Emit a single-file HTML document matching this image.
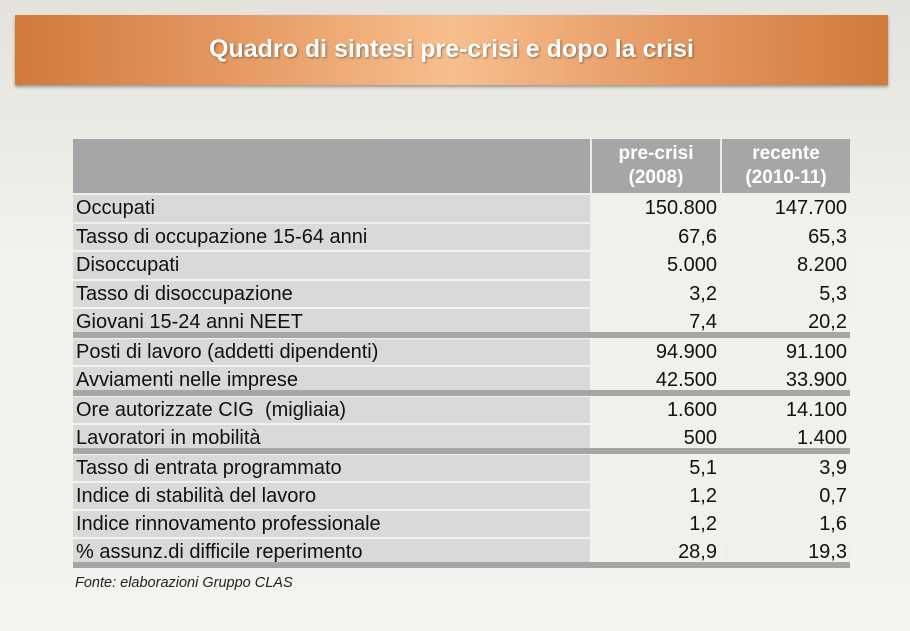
<!DOCTYPE html>
<html><head><meta charset="utf-8"><style>
body{margin:0;width:910px;height:631px;overflow:hidden;background:linear-gradient(#e4e2dc,#f2f1ed 40%,#f4f3ef);font-family:"Liberation Sans",sans-serif;position:relative}
.ban{position:absolute;left:15px;top:15px;width:873px;height:70px;background:linear-gradient(90deg,#d07a3c 0%,#e9a06a 30%,#f7bf8e 50%,#e9a06a 70%,#d07a3c 100%);box-shadow:0 2px 3px rgba(0,0,0,.35);color:#fff;font-weight:bold;font-size:25px;text-align:center;line-height:68px;text-shadow:1px 1px 2px rgba(0,0,0,.4)}
.r{position:absolute;left:73px;width:777px;font-size:20px;color:#111}
.c{position:absolute;top:0;bottom:0;box-sizing:border-box;line-height:27px;white-space:nowrap}
.a{left:0;width:517px;background:#d9d9d9;padding-left:3px}
.b{left:519px;width:128px;background:#f1f0ec;text-align:right;padding-right:3px}
.d{left:649px;width:128px;background:#f1f0ec;text-align:right;padding-right:3px}
.sep{position:absolute;left:73px;width:777px;height:6px;background:#a6a6a6}
.h{position:absolute;top:139px;height:54px;background:#a6a6a6;color:#fff;font-weight:bold;font-size:19px;text-align:center;line-height:24px;padding-top:3px;box-sizing:border-box}
</style></head><body>
<div class="ban">Quadro di sintesi pre-crisi e dopo la crisi</div>
<div class="h" style="left:73px;width:517px"></div>
<div class="h" style="left:592px;width:128px">pre-crisi<br>(2008)</div>
<div class="h" style="left:722px;width:128px">recente<br>(2010-11)</div>

<div class="r" style="top:195px;height:27px"><div class="c a">Occupati</div><div class="c b">150.800</div><div class="c d">147.700</div></div>
<div class="r" style="top:224px;height:26px"><div class="c a">Tasso di occupazione 15-64 anni</div><div class="c b">67,6</div><div class="c d">65,3</div></div>
<div class="r" style="top:252px;height:27px"><div class="c a">Disoccupati</div><div class="c b">5.000</div><div class="c d">8.200</div></div>
<div class="r" style="top:281px;height:26px"><div class="c a">Tasso di disoccupazione</div><div class="c b">3,2</div><div class="c d">5,3</div></div>
<div class="r" style="top:309px;height:24px"><div class="c a">Giovani 15-24 anni NEET</div><div class="c b">7,4</div><div class="c d">20,2</div></div>
<div class="sep" style="top:332px"></div>
<div class="r" style="top:339px;height:26px"><div class="c a">Posti di lavoro (addetti dipendenti)</div><div class="c b">94.900</div><div class="c d">91.100</div></div>
<div class="r" style="top:367px;height:24px"><div class="c a">Avviamenti nelle imprese</div><div class="c b">42.500</div><div class="c d">33.900</div></div>
<div class="sep" style="top:390px"></div>
<div class="r" style="top:397px;height:26px"><div class="c a">Ore autorizzate CIG &nbsp;(migliaia)</div><div class="c b">1.600</div><div class="c d">14.100</div></div>
<div class="r" style="top:425px;height:24px"><div class="c a">Lavoratori in mobilità</div><div class="c b">500</div><div class="c d">1.400</div></div>
<div class="sep" style="top:448px"></div>
<div class="r" style="top:455px;height:26px"><div class="c a">Tasso di entrata programmato</div><div class="c b">5,1</div><div class="c d">3,9</div></div>
<div class="r" style="top:483px;height:26px"><div class="c a">Indice di stabilità del lavoro</div><div class="c b">1,2</div><div class="c d">0,7</div></div>
<div class="r" style="top:511px;height:26px"><div class="c a">Indice rinnovamento professionale</div><div class="c b">1,2</div><div class="c d">1,6</div></div>
<div class="r" style="top:539px;height:24px"><div class="c a">% assunz.di difficile reperimento</div><div class="c b">28,9</div><div class="c d">19,3</div></div>
<div class="sep" style="top:562px"></div>
<div style="position:absolute;left:75px;top:575px;font-size:14.5px;font-style:italic;color:#222">Fonte: elaborazioni Gruppo CLAS</div>
</body></html>
